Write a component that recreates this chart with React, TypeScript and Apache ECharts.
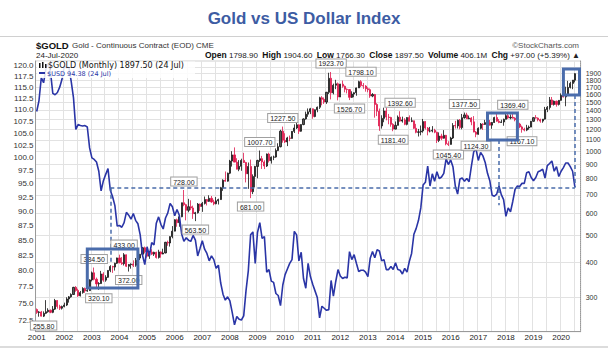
import React, { useEffect, useRef } from "react";
import * as echarts from "echarts";

const FIRST_YEAR = 2001;
const LAST_YEAR = 2020;
const LAST_AXIS_MONTH = 9; // axis runs to Sep 2020

// Monthly gold futures bars [open, high, low, close]
const GOLD_OHLC: number[][] = [
  // 2001
  [272.0, 274.5, 262.5, 265.6], [265.6, 268.5, 256.5, 266.7], [266.7, 269.0, 257.0, 257.7], [257.7, 268.0, 255.8, 263.7],
  [263.7, 294.0, 262.0, 267.2], [267.2, 275.0, 265.0, 270.6], [270.6, 272.0, 264.0, 265.9], [265.9, 280.0, 264.0, 273.0],
  [273.0, 297.0, 271.0, 293.1], [293.1, 294.0, 274.0, 279.0], [279.0, 283.0, 271.0, 275.1], [275.1, 281.0, 272.0, 278.9],
  // 2002
  [278.9, 288.0, 277.0, 282.3], [282.3, 301.0, 280.0, 296.8], [296.8, 304.0, 288.0, 302.0], [302.0, 311.0, 300.0, 308.0],
  [308.0, 328.0, 307.0, 326.6], [326.6, 330.0, 315.0, 318.5], [318.5, 323.0, 302.0, 304.7], [304.7, 317.0, 303.0, 312.8],
  [312.8, 327.0, 310.0, 323.7], [323.7, 326.0, 312.0, 316.9], [316.9, 322.0, 315.0, 318.0], [318.0, 349.0, 317.0, 347.2],
  // 2003
  [347.2, 372.0, 343.0, 368.2], [368.2, 384.5, 346.0, 349.2], [349.2, 354.0, 327.0, 336.0], [336.0, 341.0, 320.1, 337.0],
  [337.0, 374.0, 336.0, 364.7], [364.7, 370.0, 342.0, 346.6], [346.6, 361.0, 342.0, 354.8], [354.8, 376.0, 353.0, 375.4],
  [375.4, 392.0, 370.0, 388.0], [388.0, 390.0, 368.0, 386.0], [386.0, 400.0, 375.0, 398.4], [398.4, 417.0, 396.0, 416.1],
  // 2004
  [416.1, 427.5, 398.0, 400.0], [400.0, 419.0, 393.0, 396.9], [396.9, 433.0, 391.0, 427.1], [427.1, 428.0, 386.0, 388.5],
  [388.5, 396.0, 372.0, 394.0], [394.0, 398.0, 381.0, 395.6], [395.6, 408.0, 386.0, 391.7], [391.7, 416.0, 387.0, 408.0],
  [408.0, 420.0, 399.0, 415.7], [415.7, 430.0, 409.0, 428.8], [428.8, 455.0, 423.0, 452.6], [452.6, 457.0, 432.0, 438.0],
  // 2005
  [438.0, 439.0, 417.0, 422.2], [422.2, 441.0, 413.0, 436.5], [436.5, 447.0, 426.0, 429.4], [429.4, 438.0, 423.0, 435.8],
  [435.8, 438.0, 414.0, 417.8], [417.8, 445.0, 414.0, 437.1], [437.1, 439.0, 417.0, 429.7], [429.7, 449.0, 429.0, 433.6],
  [433.6, 475.0, 432.0, 473.3], [473.3, 480.0, 460.0, 470.6], [470.6, 497.0, 457.0, 496.0], [496.0, 541.0, 489.0, 518.9],
  // 2006
  [518.9, 572.0, 518.0, 569.8], [569.8, 575.0, 538.0, 556.2], [556.2, 588.0, 538.0, 584.0], [584.0, 656.0, 582.0, 655.5],
  [655.5, 728.0, 637.0, 645.2], [645.2, 650.0, 567.0, 616.0], [616.0, 677.0, 606.0, 634.5], [634.5, 669.0, 617.0, 627.8],
  [627.8, 640.0, 574.0, 599.3], [599.3, 608.0, 563.5, 603.9], [603.9, 654.0, 600.0, 648.3], [648.3, 651.0, 613.0, 635.7],
  // 2007
  [635.7, 660.0, 608.0, 652.0], [652.0, 690.0, 646.0, 673.0], [673.0, 676.0, 641.0, 663.0], [663.0, 697.0, 660.0, 680.0],
  [680.0, 693.0, 655.0, 660.0], [660.0, 672.0, 642.0, 650.0], [650.0, 687.0, 647.0, 666.0], [666.0, 678.0, 646.0, 673.0],
  [673.0, 747.0, 671.0, 742.0], [742.0, 795.0, 723.0, 789.0], [789.0, 848.0, 780.0, 783.0], [783.0, 840.0, 780.0, 836.0],
  // 2008
  [836.0, 933.0, 830.0, 924.0], [924.0, 1002.0, 883.0, 972.0], [972.0, 1033.9, 915.0, 916.0], [916.0, 946.0, 863.0, 864.0],
  [864.0, 931.0, 850.0, 885.0], [885.0, 942.0, 853.0, 929.0], [929.0, 989.0, 910.0, 913.0], [913.0, 918.0, 775.0, 832.0],
  [832.0, 913.0, 735.0, 884.0], [884.0, 935.0, 681.0, 718.0], [718.0, 828.0, 704.0, 814.0], [814.0, 888.0, 744.0, 884.0],
  // 2009
  [884.0, 934.0, 802.0, 928.0], [928.0, 1007.7, 917.0, 942.0], [942.0, 964.0, 866.0, 917.0], [917.0, 930.0, 865.0, 887.0],
  [887.0, 983.0, 880.0, 979.0], [979.0, 990.0, 913.0, 927.0], [927.0, 960.0, 905.0, 954.0], [954.0, 966.0, 931.0, 955.0],
  [955.0, 1025.0, 950.0, 1008.0], [1008.0, 1070.0, 1003.0, 1040.0], [1040.0, 1195.0, 1034.0, 1182.0], [1182.0, 1227.5, 1075.0, 1097.0],
  // 2010
  [1097.0, 1162.0, 1072.0, 1081.0], [1081.0, 1128.0, 1045.0, 1118.0], [1118.0, 1140.0, 1088.0, 1113.0], [1113.0, 1183.0, 1112.0, 1180.0],
  [1180.0, 1250.0, 1164.0, 1213.0], [1213.0, 1265.0, 1203.0, 1245.0], [1245.0, 1250.0, 1155.0, 1181.0], [1181.0, 1250.0, 1176.0, 1248.0],
  [1248.0, 1313.0, 1241.0, 1307.0], [1307.0, 1388.0, 1300.0, 1359.0], [1359.0, 1425.0, 1330.0, 1386.0], [1386.0, 1432.0, 1360.0, 1421.0],
  // 2011
  [1421.0, 1424.0, 1309.0, 1333.0], [1333.0, 1412.0, 1325.0, 1410.0], [1410.0, 1448.0, 1381.0, 1439.0], [1439.0, 1569.0, 1419.0, 1556.0],
  [1556.0, 1577.0, 1462.0, 1536.0], [1536.0, 1560.0, 1479.0, 1502.0], [1502.0, 1632.0, 1479.0, 1628.0], [1628.0, 1912.0, 1605.0, 1826.0],
  [1826.0, 1923.7, 1535.0, 1620.0], [1620.0, 1748.0, 1600.0, 1725.0], [1725.0, 1804.0, 1670.0, 1746.0], [1746.0, 1764.0, 1523.0, 1566.0],
  // 2012
  [1566.0, 1745.0, 1565.0, 1740.0], [1740.0, 1792.0, 1690.0, 1711.0], [1711.0, 1720.0, 1627.0, 1669.0], [1669.0, 1680.0, 1613.0, 1664.0],
  [1664.0, 1669.0, 1526.7, 1561.0], [1561.0, 1641.0, 1553.0, 1604.0], [1604.0, 1627.0, 1563.0, 1622.0], [1622.0, 1692.0, 1582.0, 1687.0],
  [1687.0, 1790.0, 1687.0, 1776.0], [1776.0, 1798.1, 1699.0, 1720.0], [1720.0, 1756.0, 1674.0, 1713.0], [1713.0, 1726.0, 1636.0, 1676.0],
  // 2013
  [1676.0, 1697.0, 1628.0, 1663.0], [1663.0, 1680.0, 1555.0, 1578.0], [1578.0, 1617.0, 1563.0, 1598.0], [1598.0, 1606.0, 1321.0, 1472.0],
  [1472.0, 1488.0, 1338.0, 1393.0], [1393.0, 1424.0, 1185.0, 1234.0], [1234.0, 1347.0, 1207.0, 1313.0], [1313.0, 1434.0, 1272.0, 1396.0],
  [1396.0, 1434.0, 1292.0, 1327.0], [1327.0, 1362.0, 1251.0, 1323.0], [1323.0, 1330.0, 1226.0, 1250.0], [1250.0, 1262.0, 1181.4, 1202.0],
  // 2014
  [1202.0, 1280.0, 1200.0, 1240.0], [1240.0, 1345.0, 1238.0, 1326.0], [1326.0, 1392.6, 1277.0, 1284.0], [1284.0, 1332.0, 1268.0, 1296.0],
  [1296.0, 1315.0, 1241.0, 1250.0], [1250.0, 1326.0, 1240.0, 1322.0], [1322.0, 1346.0, 1281.0, 1282.0], [1282.0, 1324.0, 1273.0, 1287.0],
  [1287.0, 1288.0, 1204.0, 1210.0], [1210.0, 1255.0, 1161.0, 1171.0], [1171.0, 1204.0, 1131.0, 1175.0], [1175.0, 1238.0, 1142.0, 1184.0],
  // 2015
  [1184.0, 1307.0, 1167.0, 1279.0], [1279.0, 1284.0, 1198.0, 1212.0], [1212.0, 1223.0, 1142.0, 1183.0], [1183.0, 1224.0, 1170.0, 1183.0],
  [1183.0, 1232.0, 1170.0, 1190.0], [1190.0, 1205.0, 1162.0, 1172.0], [1172.0, 1175.0, 1072.0, 1095.0], [1095.0, 1170.0, 1080.0, 1135.0],
  [1135.0, 1157.0, 1098.0, 1115.0], [1115.0, 1192.0, 1111.0, 1142.0], [1142.0, 1146.0, 1052.0, 1065.0], [1065.0, 1088.0, 1045.4, 1060.0],
  // 2016
  [1060.0, 1128.0, 1058.0, 1117.0], [1117.0, 1263.0, 1108.0, 1238.0], [1238.0, 1287.0, 1208.0, 1234.0], [1234.0, 1300.0, 1208.0, 1293.0],
  [1293.0, 1306.0, 1200.0, 1217.0], [1217.0, 1362.0, 1200.0, 1321.0], [1321.0, 1377.5, 1310.0, 1351.0], [1351.0, 1375.0, 1306.0, 1309.0],
  [1309.0, 1344.0, 1305.0, 1316.0], [1316.0, 1326.0, 1241.0, 1276.0], [1276.0, 1338.0, 1171.0, 1173.0], [1173.0, 1183.0, 1124.3, 1152.0],
  // 2017
  [1152.0, 1220.0, 1147.0, 1210.0], [1210.0, 1264.0, 1200.0, 1253.0], [1253.0, 1262.0, 1194.0, 1249.0], [1249.0, 1297.0, 1245.0, 1268.0],
  [1268.0, 1275.0, 1214.0, 1268.0], [1268.0, 1296.0, 1238.0, 1242.0], [1242.0, 1274.0, 1205.0, 1269.0], [1269.0, 1331.0, 1265.0, 1322.0],
  [1322.0, 1362.0, 1277.0, 1283.0], [1283.0, 1306.0, 1262.0, 1270.0], [1270.0, 1299.0, 1264.0, 1275.0], [1275.0, 1310.0, 1236.0, 1303.0],
  // 2018
  [1303.0, 1366.0, 1302.0, 1343.0], [1343.0, 1366.0, 1307.0, 1318.0], [1318.0, 1356.0, 1303.0, 1325.0], [1325.0, 1369.4, 1311.0, 1315.0],
  [1315.0, 1326.0, 1282.0, 1299.0], [1299.0, 1310.0, 1245.0, 1253.0], [1253.0, 1266.0, 1211.0, 1224.0], [1224.0, 1237.0, 1167.1, 1201.0],
  [1201.0, 1216.0, 1180.0, 1192.0], [1192.0, 1245.0, 1182.0, 1214.0], [1214.0, 1238.0, 1196.0, 1222.0], [1222.0, 1286.0, 1221.0, 1282.0],
  // 2019
  [1282.0, 1326.0, 1277.0, 1321.0], [1321.0, 1349.0, 1311.0, 1316.0], [1316.0, 1323.0, 1281.0, 1298.0], [1298.0, 1310.0, 1267.0, 1284.0],
  [1284.0, 1306.0, 1267.0, 1305.0], [1305.0, 1443.0, 1300.0, 1413.0], [1413.0, 1453.0, 1382.0, 1437.0], [1437.0, 1566.0, 1411.0, 1529.0],
  [1529.0, 1566.0, 1465.0, 1472.0], [1472.0, 1521.0, 1459.0, 1513.0], [1513.0, 1519.0, 1446.0, 1473.0], [1473.0, 1526.0, 1460.0, 1523.0],
  // 2020
  [1523.0, 1613.0, 1519.0, 1587.0], [1587.0, 1691.0, 1560.0, 1566.0], [1566.0, 1704.0, 1451.0, 1596.0], [1596.0, 1788.0, 1591.0, 1694.0],
  [1694.0, 1775.0, 1680.0, 1751.0], [1751.0, 1800.0, 1670.0, 1800.0], [1798.9, 1904.6, 1766.3, 1897.5],
];

// US Dollar Index, monthly
const USD_CLOSE: number[] = [
  109.6, 112.0, 117.2, 116.0, 119.3, 120.6, 118.5, 113.6, 113.3, 113.8, 115.0, 116.8,
  119.9, 119.5, 119.6, 116.3, 112.6, 105.8, 106.8, 106.6, 106.5, 106.6, 106.3, 102.0,
  100.0, 99.7, 99.2, 97.4, 93.7, 95.6, 96.8, 97.9, 93.8, 92.6, 91.0, 87.4,
  87.5, 87.2, 88.0, 89.8, 89.3, 88.6, 89.6, 88.4, 87.8, 85.9, 82.5, 81.0,
  83.9, 82.4, 84.6, 84.2, 87.9, 89.0, 87.7, 86.9, 88.8, 89.7, 91.4, 90.8,
  89.2, 90.3, 89.3, 86.1, 84.8, 85.4, 85.0, 84.8, 85.8, 85.0, 82.4, 83.6,
  84.9, 83.5, 82.8, 81.6, 82.4, 81.8, 80.4, 80.9, 78.1, 76.4, 75.5, 76.0,
  75.4, 73.7, 71.9, 73.1, 72.7, 72.6, 73.2, 76.9, 80.0, 85.9, 86.4, 81.2,
  86.3, 88.0, 85.3, 85.6, 79.8, 80.2, 78.4, 78.2, 76.5, 76.2, 74.7, 77.8,
  79.4, 80.3, 81.2, 81.8, 86.5, 85.9, 81.6, 83.0, 78.8, 77.3, 81.2, 79.1,
  77.9, 76.9, 75.9, 72.9, 74.6, 74.3, 74.0, 74.1, 78.5, 76.1, 78.3, 80.2,
  79.2, 78.8, 79.0, 78.9, 83.1, 81.8, 82.6, 81.2, 79.9, 80.1, 80.1, 79.8,
  79.1, 82.0, 83.1, 82.1, 83.4, 83.2, 81.6, 81.8, 80.2, 80.2, 80.7, 80.2,
  81.3, 80.2, 80.1, 79.5, 80.4, 79.8, 81.5, 82.8, 86.0, 87.0, 88.4, 90.6,
  94.8, 95.3, 98.4, 94.6, 96.9, 95.5, 97.3, 96.0, 96.3, 97.0, 99.8, 98.7,
  99.6, 98.2, 94.6, 93.1, 95.9, 96.1, 95.5, 96.0, 95.4, 98.4, 101.2, 101.8,
  99.5, 101.1, 100.4, 99.1, 97.0, 95.6, 92.9, 92.7, 93.1, 94.6, 93.0, 92.1,
  89.1, 90.6, 89.9, 91.8, 94.0, 94.6, 94.5, 95.1, 95.1, 97.1, 97.3, 96.2,
  95.6, 96.2, 97.3, 97.5, 97.8, 96.1, 98.5, 98.9, 99.4, 97.4, 98.3, 96.4,
  97.4, 98.1, 99.0, 99.0, 98.3, 97.4, 94.4,
];

const USD_TICKS = [72.5, 75, 77.5, 80, 82.5, 85, 87.5, 90, 92.5, 95, 97.5, 100, 102.5, 105, 107.5, 110, 112.5, 115, 117.5, 120];
const GOLD_TICKS = [300, 400, 500, 600, 700, 800, 900, 1000, 1100, 1200, 1300, 1400, 1500, 1600, 1700, 1800, 1900, 2000];
const USD_RANGE = [70.94, 121.1];
const GOLD_RANGE = [226.7, 2106];

// annotated highs / lows: [month index, price]
const GOLD_HIGH_MARKS: number[][] = [
  [25, 384.5], [38, 433.0], [64, 728.0], [97, 1007.7], [107, 1227.5], [128, 1923.7],
  [141, 1798.1], [158, 1392.6], [186, 1377.5], [207, 1369.4],
];
const GOLD_LOW_MARKS: number[][] = [
  [3, 255.8], [27, 320.1], [40, 372.0], [69, 563.5], [93, 681.0], [136, 1526.7],
  [155, 1181.4], [179, 1045.4], [191, 1124.3], [211, 1167.1],
];
// boxes: [start month, top price, end month, bottom price]
const GOLD_BOXES: number[][] = [
  [22, 447.6, 44, 324.7],
  [196, 1372.6, 209, 1099],
  [229, 1972, 236, 1592],
];
// dashed segments: [month a, price a, month b, price b]
const GOLD_DASHES: number[][] = [
  [32, 741.7, 234, 741.7],
  [32, 741.7, 32, 402],
  [201, 1099, 201, 642],
  [234, 1592, 234, 741.7],
];

const MONTHS: string[] = [];
for (let y = FIRST_YEAR; y <= LAST_YEAR; y++) {
  const last = y === LAST_YEAR ? LAST_AXIS_MONTH : 12;
  for (let m = 1; m <= last; m++) MONTHS.push(`${y}-${String(m).padStart(2, "0")}`);
}

const FONT = '"Liberation Sans", Arial, sans-serif';
const ANNO = "#4a6cab";

export default function App() {
  const ref = useRef<HTMLDivElement>(null);
  useEffect(() => {
    if (!ref.current) return;
    const chart = echarts.init(ref.current, null, { renderer: "svg" });

    const candleData = GOLD_OHLC.map(([o, h, l, c]) => [o, c, l, h]);
    const gridLeft = 35.55;
    const gridTop = 61;
    const gridW = 545.1;
    const gridH = 270.7;

    const markLabel = {
      show: true,
      formatter: (p: any) => Number(p.value).toFixed(2),
      fontSize: 7,
      fontFamily: FONT,
      color: "#222",
      backgroundColor: "#fff",
      borderColor: "#a0a0a0",
      borderWidth: 1,
      padding: [1, 2, 0, 2],
      distance: 4,
    };

    const option: any = {
      animation: false,
      backgroundColor: "#fff",
      grid: {
        left: gridLeft,
        top: gridTop,
        width: gridW,
        height: gridH,
        show: true,
        borderColor: "#cfcfcf",
        borderWidth: 1,
        containLabel: false,
        outerBoundsMode: "none",
      },
      xAxis: {
        type: "category",
        data: MONTHS,
        boundaryGap: true,
        axisLine: { show: true, lineStyle: { color: "#9a9a9a" } },
        axisTick: { show: false },
        axisLabel: {
          interval: (_i: number, v: string) => v.endsWith("-01"),
          formatter: (v: string) => v.slice(0, 4),
          fontSize: 8,
          fontFamily: FONT,
          color: "#222",
          margin: 2,
        },
        splitLine: {
          show: true,
          interval: (_i: number, v: string) => v.endsWith("-01") || v.endsWith("-07"),
          lineStyle: { color: "#e2e2e2", width: 1 },
        },
      },
      yAxis: [
        {
          type: "log",
          logBase: 10,
          position: "left",
          min: USD_RANGE[0],
          max: USD_RANGE[1],
          axisLine: { show: true, lineStyle: { color: "#9a9a9a" } },
          axisTick: { show: false, customValues: USD_TICKS },
          axisLabel: {
            customValues: USD_TICKS,
            formatter: (v: number) => v.toFixed(1),
            fontSize: 8,
            lineHeight: 8,
            fontFamily: FONT,
            color: "#333",
            margin: 2,
          },
          splitLine: { show: false },
        },
        {
          type: "log",
          logBase: 10,
          position: "right",
          min: GOLD_RANGE[0],
          max: GOLD_RANGE[1],
          axisLine: { show: true, lineStyle: { color: "#9a9a9a", type: "dotted" } },
          axisTick: { show: false, customValues: GOLD_TICKS },
          axisLabel: {
            customValues: GOLD_TICKS,
            formatter: (v: number) => String(Math.round(v)),
            fontSize: 7,
            lineHeight: 6,
            fontFamily: FONT,
            color: "#333",
            margin: 5,
          },
          splitLine: { show: true, customValues: GOLD_TICKS, lineStyle: { color: "#e2e2e2", width: 1 } },
        },
      ],
      series: [
        {
          name: "$GOLD",
          type: "candlestick",
          yAxisIndex: 1,
          data: candleData,
          barWidth: 1.6,
          z: 2,
          itemStyle: {
            color: "#5a5a5a",
            color0: "#e0174b",
            borderColor: "#111",
            borderColor0: "#e0174b",
            borderWidth: 0.8,
          },
          markPoint: {
            silent: true,
            symbol: "rect",
            symbolSize: 1,
            itemStyle: { color: "rgba(0,0,0,0)" },
            label: markLabel,
            data: [
              ...GOLD_HIGH_MARKS.map(([i, v]) => ({ coord: [MONTHS[i], v], value: v, label: { position: "top" } })),
              ...GOLD_LOW_MARKS.map(([i, v]) => ({ coord: [MONTHS[i], v], value: v, label: { position: "bottom" } })),
            ],
          },
          markLine: {
            silent: true,
            symbol: ["none", "none"],
            label: { show: false },
            lineStyle: { type: [4, 3], color: ANNO, width: 1.5 },
            emphasis: { disabled: true },
            data: GOLD_DASHES.map(([a, va, b, vb]) => [
              { coord: [MONTHS[a], va] },
              { coord: [MONTHS[b], vb] },
            ]),
          },
          markArea: {
            silent: true,
            z: 6,
            itemStyle: { color: "rgba(0,0,0,0)", borderColor: ANNO, borderWidth: 3 },
            emphasis: { disabled: true },
            data: GOLD_BOXES.map(([a, va, b, vb]) => [
              { coord: [MONTHS[a], va] },
              { coord: [MONTHS[b], vb] },
            ]),
          },
        },
        {
          name: "$USD",
          type: "line",
          yAxisIndex: 0,
          data: USD_CLOSE,
          symbol: "none",
          z: 3,
          lineStyle: { color: "#2a35a6", width: 1.6 },
          itemStyle: { color: "#2a35a6" },
        },
      ],
      graphic: [
        { type: "line", z: 100, shape: { x1: 0, y1: 36.5, x2: 608, y2: 36.5 }, style: { stroke: "#d0d0d0", lineWidth: 1 }, silent: true },
        { type: "line", z: 100, shape: { x1: 0, y1: 347, x2: 608, y2: 347 }, style: { stroke: "#dcdcdc", lineWidth: 2 }, silent: true },
        {
          type: "text", x: 304, y: 18, z: 100,
          style: { text: "Gold vs US Dollar Index", fill: "#3d5ca3", font: `bold 17px ${FONT}`, align: "center", verticalAlign: "middle" },
        },
        {
          type: "text", x: 579, y: 45, z: 100,
          style: { text: "\u00a9StockCharts.com", fill: "#555", font: `8px ${FONT}`, align: "right", verticalAlign: "middle" },
        },
        {
          type: "text", x: 36, y: 45, z: 100,
          style: { text: "$GOLD", fill: "#111", font: `bold 9.5px ${FONT}`, align: "left", verticalAlign: "middle" },
        },
        {
          type: "text", x: 72, y: 45.5, z: 100,
          style: { text: "Gold - Continuous Contract (EOD) CME", fill: "#333", font: `8px ${FONT}`, align: "left", verticalAlign: "middle" },
        },
        {
          type: "text", x: 36, y: 55, z: 100,
          style: { text: "24-Jul-2020", fill: "#222", font: `8px ${FONT}`, align: "left", verticalAlign: "middle" },
        },
        {
          type: "text", x: 580, y: 55, z: 100,
          style: {
            text: "{b|Open} 1798.90  {b|High} 1904.60  {b|Low} 1766.30  {b|Close} 1897.50  {b|Volume} 406.1M  {b|Chg} +97.00 (+5.39%) \u25b2",
            fill: "#222",
            font: `8px ${FONT}`,
            align: "right",
            verticalAlign: "middle",
            rich: { b: { fontWeight: "bold", fontSize: 8.5, fontFamily: FONT, fill: "#111" } },
          },
        },
        // legend
        {
          type: "group",
          z: 100,
          children: [
            { type: "rect", z: 100, shape: { x: 37, y: 61.5, width: 158, height: 16.5 }, style: { fill: "rgba(255,255,255,0.85)" } },
            { type: "rect", z: 101, shape: { x: 39, y: 63, width: 1.5, height: 5 }, style: { fill: "#111" } },
            { type: "rect", z: 101, shape: { x: 42, y: 62, width: 1.5, height: 6 }, style: { fill: "#111" } },
            { type: "rect", z: 101, shape: { x: 45, y: 64, width: 1.5, height: 4 }, style: { fill: "#111" } },
            {
              type: "text", x: 48, y: 65.5, z: 101,
              style: { text: "$GOLD (Monthly) 1897.50 (24 Jul)", fill: "#111", font: `8px "DejaVu Sans", sans-serif`, align: "left", verticalAlign: "middle" },
            },
            { type: "line", z: 101, shape: { x1: 39, y1: 73, x2: 45, y2: 73 }, style: { stroke: "#2a35a6", lineWidth: 2 } },
            {
              type: "text", x: 47, y: 73.5, z: 101,
              style: { text: "$USD 94.38 (24 Jul)", fill: "#2a35a6", font: `6.5px "DejaVu Sans", sans-serif`, align: "left", verticalAlign: "middle" },
            },
          ],
        },
      ],
    };

    chart.setOption(option);
    return () => chart.dispose();
  }, []);

  return (
    <div
      ref={ref}
      style={{ position: "fixed", left: 0, top: 0, width: 608, height: 361, background: "#fff" }}
    />
  );
}
